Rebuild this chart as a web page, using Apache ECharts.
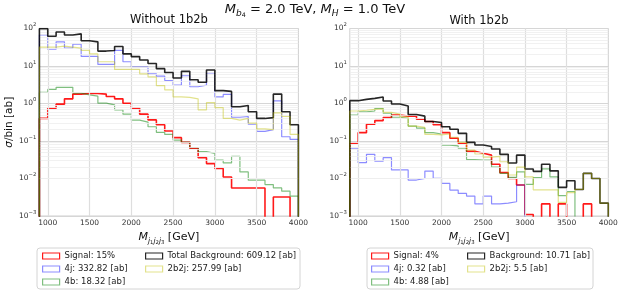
<!DOCTYPE html>
<html><head><meta charset="utf-8">
<script src="https://cdn.jsdelivr.net/npm/echarts@6/dist/echarts.min.js"></script>
<style>html,body{margin:0;padding:0;background:#fff}#c{width:623px;height:292px}</style>
</head><body><div id="c"></div><script>
// ---------- data ----------
const binLeft = [900,1000,1100,1200,1300,1400,1500,1600,1700,1800,1900,2000,2100,2200,2300,2400,2500,2600,2700,2800,2900,3000,3100,3200,3300,3400,3500,3600,3700,3800,3900];
const xMax = 4000;
const xTickLabels = [1000,1500,2000,2500,3000,3500,4000];

// Left panel: Without 1b2b
const sigL  = [0.40,0.75,0.96,1.33,1.78,1.85,1.85,1.78,1.54,1.33,1.02,0.75,0.52,0.365,0.27,0.185,0.123,0.092,0.064,0.036,0.025,0.0185,0.011,0.0056,0.0056,0.0056,0.0056,0,0.0032,0.0032,0];
const j4L   = [68,28,44,30,38,18,18,11,11,26,13,9.4,9.4,6.2,5.4,4.1,3.1,5.5,2.8,3.1,6.5,1.5,1.75,0.43,0.45,0.28,0.18,0.2,1.18,0.13,0.11];
const b4L   = [1.97,2.37,2.7,2.7,1.89,1.7,1.57,1.02,0.92,0.68,0.52,0.36,0.32,0.24,0.17,0.15,0.106,0.092,0.066,0.052,0.047,0.031,0.026,0.039,0.015,0.009,0.009,0.0069,0.0056,0.0046,0.0034];
const totL  = [99,62,81,67,72,47,44,25,26,33,21,17.8,14.5,11.7,8.5,6.7,4.8,7.2,4.3,3.7,7.8,2.2,2.1,0.82,0.88,0.6,0.4,0.42,1.78,0.6,0.27];
const b2j2L = [32,32,34,32,30,26,21,13,13,8.1,8.1,8.1,6.2,5.1,3.0,2.3,1.5,1.45,1.33,0.68,1.06,0.78,0.4,0.36,0.4,0.3,0.21,0.2,0.56,0.45,0.15];

// Right panel: With 1b2b
const sigR  = [0.087,0.167,0.28,0.35,0.42,0.49,0.46,0.46,0.38,0.33,0.27,0.167,0.118,0.087,0.053,0.047,0.042,0.024,0.0143,0.010,0.0067,0.0011,0,0.0021,0,0.0021,0,0,0.0021,0,0];
const j4R   = [0.064,0.0264,0.044,0.029,0.036,0.0169,0.0169,0.0091,0.0101,0.0158,0.0101,0.0074,0.0049,0.004,0.0034,0.0021,0.0034,0.0021,0.0022,0.0024,0.0067,0,0,0,0,0,0,0,0,0,0];
const b4R   = [0.49,0.6,0.63,0.74,0.55,0.43,0.40,0.25,0.22,0.167,0.154,0.078,0.074,0.064,0.032,0.031,0.031,0.020,0.0137,0.0107,0.015,0.007,0.0105,0.018,0.011,0.0035,0.0045,0,0,0,0];
const totR  = [1.19,1.29,1.37,1.49,1.17,0.97,0.86,0.51,0.46,0.33,0.31,0.24,0.205,0.16,0.092,0.078,0.071,0.061,0.044,0.026,0.042,0.018,0.0155,0.024,0.016,0.0058,0.0087,0.0051,0.0137,0.010,0.0022];
const b2j2R = [0.63,0.66,0.70,0.72,0.58,0.52,0.44,0.25,0.23,0.15,0.146,0.155,0.126,0.092,0.057,0.045,0.037,0.039,0.028,0.0124,0.02,0.011,0.005,0.005,0.005,0.0023,0.0042,0.0051,0.0137,0.010,0.0022];

const namesL = ['Signal: 15%','4j: 332.82 [ab]','4b: 18.32 [ab]','Total Background: 609.12 [ab]','2b2j: 257.99 [ab]'];
const namesR = ['Signal: 4%','4j: 0.32 [ab]','4b: 4.88 [ab]','Background: 10.71 [ab]','2b2j: 5.5 [ab]'];

// ---------- style ----------
const FONT = 'DejaVu Sans';
const COLORS = ['rgba(255,0,0,0.9)','rgba(0,0,255,0.45)','rgba(0,128,0,0.5)','rgba(0,0,0,0.85)','rgba(191,191,0,0.45)'];
const WIDTHS = [1.6,1.2,1.2,1.6,1.2];
const FLOOR = 1e-7;

function steps(vals){
  const pts = [[binLeft[0], FLOOR]];
  for (let i=0;i<vals.length;i++) pts.push([binLeft[i], vals[i]>0?vals[i]:FLOOR]);
  const last = vals[vals.length-1]>0?vals[vals.length-1]:FLOOR;
  pts.push([xMax, last]);
  pts.push([xMax, FLOOR]);
  return pts;
}

const minorY = [];
[0.001,0.01,0.1,1,10].forEach(d=>{ for(let m=2;m<=9;m++) minorY.push(+(d*m).toPrecision(3)); });
const xGrid = xTickLabels.filter(v=>v<xMax);

function gridSeries(gi){
  return {
    type:'line', xAxisIndex:gi, yAxisIndex:gi, data:[[binLeft[0], FLOOR]], symbol:'none', silent:true, z:1,
    lineStyle:{width:0}, animation:false,
    markLine:{silent:true, symbol:['none','none'], label:{show:false}, animation:false,
      lineStyle:{color:'#dedede', width:1.2, type:'solid'},
      emphasis:{disabled:true},
      data:[...xGrid.map(v=>({xAxis:v})), ...minorY.map(v=>({yAxis:v, lineStyle:{color:'#ededed', width:0.8, type:'solid'}}))]
    }
  };
}

function dataSeries(gi, names, arrs){
  return arrs.map((a,k)=>({
    type:'line', name:names[k], xAxisIndex:gi, yAxisIndex:gi, data:steps(a), step:'end',
    symbol:'none', showSymbol:false, clip:true, animation:false, z:2+k,
    lineStyle:{color:COLORS[k], width:WIDTHS[k]}, itemStyle:{color:COLORS[k]},
    emphasis:{disabled:true}
  }));
}

function legendItems(names, idxs){
  return idxs.map(k=>({name:names[k], itemStyle:{color:'#ffffff', borderColor:COLORS[k], borderWidth:1.2}}));
}
function legend(names, idxs, left){
  return {data:legendItems(names, idxs), orient:'vertical', left:left, top:251, itemWidth:17, itemHeight:6, itemGap:3,
    icon:'rect', selectedMode:false, padding:0,
    textStyle:{fontFamily:FONT, fontSize:8.5, color:'#222', lineHeight:10}};
}

const yLabel = {
  margin:3,
  formatter:v=>{ const e=Math.round(Math.log10(v)); return '{b|10}{s|'+(e<0?'\u2212'+(-e):e)+'}'; },
  rich:{b:{fontFamily:FONT,fontSize:7.5,color:'#333',lineHeight:12}, s:{fontFamily:FONT,fontSize:5.3,color:'#333',verticalAlign:'top'}}
};
const xName = '{m|M}{sb|j}{ss|1}{sb|j}{ss|2}{sb|j}{ss|3}{n| [GeV]}';
const xNameStyle = {color:'#111', rich:{
  m:{fontFamily:FONT,fontSize:11,fontStyle:'italic',color:'#111',lineHeight:15},
  sb:{fontFamily:FONT,fontSize:7.5,fontStyle:'italic',color:'#111',verticalAlign:'bottom'},
  ss:{fontFamily:FONT,fontSize:5.3,color:'#111',verticalAlign:'bottom'},
  n:{fontFamily:FONT,fontSize:11,color:'#111'}}};

function xAxis(gi){
  return {type:'value', gridIndex:gi, min:binLeft[0], max:xMax, interval:100,
    axisLine:{show:false}, axisTick:{show:false}, splitLine:{show:false},
    axisLabel:{fontFamily:FONT, fontSize:7.5, color:'#333', margin:3,
      formatter:v=> xTickLabels.indexOf(v)>=0 ? String(v) : ''},
    name:xName, nameLocation:'middle', nameGap:14, nameTextStyle:xNameStyle};
}
function yAxis(gi, withName){
  const o = {type:'log', logBase:10, gridIndex:gi, min:0.001, max:100, splitNumber:5,
    axisLine:{show:false}, axisTick:{show:false},
    splitLine:{show:true, lineStyle:{color:'#d6d6d6', width:1}},
    axisLabel:yLabel};
  if (withName){
    o.name='{g|\u03c3}{n|/bin [ab]}'; o.nameLocation='middle'; o.nameGap=22;
    o.nameTextStyle={rich:{g:{fontFamily:FONT,fontSize:10.5,fontStyle:'italic',color:'#111'}, n:{fontFamily:FONT,fontSize:10.5,color:'#111'}}};
  }
  return o;
}

const option = {
  animation:false,
  backgroundColor:'#fff',
  title:[
    {text:'{m|M}{sb|b}{ss|4}{n| = 2.0 TeV, }{m|M}{sb|H}{n| = 1.0 TeV}', left:315, top:1, textAlign:'center', padding:0,
     textStyle:{fontWeight:'normal', fontFamily:FONT, rich:{
       m:{fontFamily:FONT,fontSize:13,fontStyle:'italic',fontWeight:'normal',color:'#111',lineHeight:17},
       sb:{fontFamily:FONT,fontSize:9,fontStyle:'italic',fontWeight:'normal',color:'#111',verticalAlign:'bottom'},
       ss:{fontFamily:FONT,fontSize:6.3,fontWeight:'normal',color:'#111',verticalAlign:'bottom'},
       n:{fontFamily:FONT,fontSize:13,fontWeight:'normal',color:'#111'}}}},
    {text:'Without 1b2b', left:169, top:14, textAlign:'center', padding:0,
     textStyle:{fontFamily:FONT,fontSize:11.5,fontWeight:'normal',color:'#111'}},
    {text:'With 1b2b', left:479, top:15, textAlign:'center', padding:0,
     textStyle:{fontFamily:FONT,fontSize:11.5,fontWeight:'normal',color:'#111'}}
  ],
  grid:[
    {left:39.4, top:28.5, width:259, height:187.5, show:true, borderColor:'#cfcfcf', borderWidth:1, backgroundColor:'transparent'},
    {left:349.8, top:28.5, width:258.5, height:187.5, show:true, borderColor:'#cfcfcf', borderWidth:1, backgroundColor:'transparent'}
  ],
  xAxis:[xAxis(0), xAxis(1)],
  yAxis:[yAxis(0,true), yAxis(1,false)],
  legend:[
    legend(namesL,[0,1,2],42),
    legend(namesL,[3,4],145),
    legend(namesR,[0,1,2],371),
    legend(namesR,[3,4],467)
  ],
  graphic:{elements:[
    {type:'rect', shape:{x:37,y:248,width:263,height:41,r:3}, style:{fill:'#fff',stroke:'#d4d4d4',lineWidth:1}, z:-1},
    {type:'rect', shape:{x:367,y:248,width:226,height:41,r:3}, style:{fill:'#fff',stroke:'#d4d4d4',lineWidth:1}, z:-1}
  ]},
  series:[
    gridSeries(0), gridSeries(1),
    ...dataSeries(0, namesL, [sigL, j4L, b4L, totL, b2j2L]),
    ...dataSeries(1, namesR, [sigR, j4R, b4R, totR, b2j2R])
  ]
};
echarts.init(document.getElementById('c'), null, {renderer:'canvas'}).setOption(option);
</script></body></html>
